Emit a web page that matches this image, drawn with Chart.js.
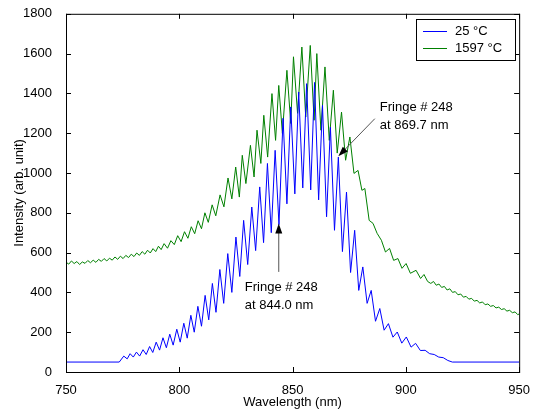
<!DOCTYPE html>
<html>
<head>
<meta charset="utf-8">
<script src="https://cdn.jsdelivr.net/npm/chart.js@4.4.1/dist/chart.umd.min.js"></script>
<style>
body { margin: 0; background: #fff; }
</style>
</head>
<body>
<canvas id="myChart" width="533" height="411"></canvas>
<script>
// 25 °C spectrum (wavelength nm, intensity)
var blueWl = [750, 773.5, 775.5, 777, 778.3, 779.7, 781.1, 782.5, 784, 785.4, 786.9, 788.3, 789.8, 791.3, 792.8, 794.3,
    795.8, 797.3, 798.9, 800.4, 802, 803.5, 805.1, 806.6, 808.2, 809.8, 811.4, 813, 814.6, 816.2, 817.9, 819.6,
    821.4, 823.2, 825, 826.7, 828.4, 830.2, 832, 833.7, 835.5, 837.2, 838.9, 840.6, 842.3, 844, 845.8, 847.5,
    849.2, 851, 852.7, 854.5, 856.2, 858, 859.7, 861.5, 863.2, 865, 866.7, 868.5, 870.2, 872, 873.8, 875.6,
    877.4, 879.2, 881, 882.9, 884.7, 886.6, 888.5, 890.4, 892.3, 894.3, 896.2, 898.2, 900.2, 902.3, 904.3, 906.4,
    908.5, 910.5, 912.5, 914.5, 916.5, 918.5, 920.5, 950];
var blueI = [50, 50, 80, 66, 92, 75, 100, 80, 112, 88, 128, 98, 150, 110, 172, 122,
    190, 135, 215, 150, 245, 170, 285, 200, 330, 230, 385, 262, 445, 300, 515, 345,
    595, 400, 678, 480, 762, 540, 829, 610, 930, 650, 1048, 700, 1114, 740, 1275, 845,
    1332, 895, 1407, 925, 1449, 915, 1455, 865, 1340, 780, 1230, 712, 1080, 605, 904, 500,
    712, 410, 528, 345, 410, 255, 319, 210, 243, 175, 201, 145, 176, 125, 144, 108,
    109, 92, 88, 75, 72, 58, 50, 50];

// 1597 °C spectrum
var greenWl = [750, 751.2, 752.4, 753.6, 754.8, 756, 757.2, 758.4, 759.6, 760.8, 762, 763.2, 764.4, 765.6, 766.8, 768,
    769.2, 770.4, 771.6, 772.8, 774, 775.2, 776.4, 777.6, 778.8, 780, 781.2, 782.4, 783.6, 784.8, 786, 787.2,
    788.4, 789.6, 790.8, 792, 793.3, 794.8, 796.3, 797.8, 799.3, 800.8, 802.3, 803.8, 805.3, 806.8, 808.3, 809.8,
    811.3, 812.8, 814.5, 816.1, 818, 819.7, 821.5, 823.2, 824.9, 826.5, 827.8, 829.4, 831.4, 833, 834.3, 836,
    837.3, 839, 840.9, 842.5, 843.9, 845.5, 847.5, 849.2, 850.4, 852.2, 854.1, 855.8, 857.8, 859.5, 860.7, 862.5,
    864.3, 866.2, 868, 869.7, 871.6, 873.4, 875.3, 877.1, 878.9, 880.6, 881.9, 883.8, 885.5, 887.3, 889.2, 891,
    892.8, 894.6, 896.5, 898.3, 900.1, 902, 904.5, 906.5, 908, 909.6, 911, 912.2, 913.4, 914.6, 915.8, 917,
    918.2, 919.4, 920.6, 921.8, 923, 924.2, 925.4, 926.6, 927.8, 929, 930.2, 931.4, 932.6, 933.8, 935, 936.2,
    937.4, 938.6, 939.8, 941, 942.2, 943.4, 944.6, 945.8, 947, 948.2, 949.4, 950];
var greenI = [552, 542, 558, 545, 555, 540, 553, 546, 560, 549, 562, 551, 566, 556, 570, 558,
    572, 562, 578, 566, 582, 570, 586, 575, 592, 580, 598, 586, 605, 592, 612, 598,
    620, 605, 632, 615, 645, 622, 660, 640, 685, 655, 705, 672, 730, 695, 760, 720,
    800, 752, 840, 785, 890, 830, 975, 870, 1030, 879, 1089, 947, 1139, 980, 1215, 1048,
    1290, 1080, 1399, 1164, 1440, 1199, 1516, 1249, 1584, 1300, 1633, 1281, 1641, 1265, 1600, 1215,
    1533, 1164, 1416, 1100, 1306, 1064, 1181, 998, 1013, 913, 922, 762, 747, 697, 662, 603,
    621, 561, 570, 521, 545, 496, 511, 470, 490, 455, 445, 455, 436, 442, 425, 430,
    412, 418, 400, 404, 388, 392, 376, 380, 366, 370, 356, 360, 347, 352, 338, 342,
    330, 334, 322, 326, 314, 318, 306, 310, 298, 302, 288, 292];

var seriesNames = ['25 °C', '1597 °C'];
var seriesColors = ['#0000ff', '#008000'];

// fringe callouts: arrow tip, arrow tail, text anchor (data units)
var noteText = [['Fringe # 248', 'at 844.0 nm'], ['Fringe # 248', 'at 869.7 nm']];
var noteTip = [[843.9, 746], [870.2, 1084]];
var noteTail = [[843.9, 503], [886.3, 1273]];
var noteAt = [[828.9, 425], [888.5, 1330]];

function toPoints(xs, ys) {
    var pts = [];
    for (var i = 0; i < xs.length; i++) pts.push({x: xs[i], y: ys[i]});
    return pts;
}

var FONT = '"Liberation Sans", Arial, sans-serif';

var boxPlugin = {
    id: 'boxPlugin',
    afterDraw: function(chart) {
        var c = chart.ctx, a = chart.chartArea;
        var sx = chart.scales.x, sy = chart.scales.y;
        c.save();
        c.strokeStyle = '#000';
        c.lineWidth = 1;
        c.strokeRect(a.left + 0.5, a.top + 0.5, a.right - a.left, a.bottom - a.top);
        c.beginPath();
        sx.ticks.forEach(function(t) {
            var px = Math.round(sx.getPixelForValue(t.value)) + 0.5;
            c.moveTo(px, a.bottom); c.lineTo(px, a.bottom - 5);
            c.moveTo(px, a.top); c.lineTo(px, a.top + 5);
        });
        sy.ticks.forEach(function(t) {
            var py = Math.round(sy.getPixelForValue(t.value)) + 0.5;
            c.moveTo(a.left, py); c.lineTo(a.left + 5, py);
            c.moveTo(a.right, py); c.lineTo(a.right - 5, py);
        });
        c.stroke();

        // callouts
        c.fillStyle = '#000';
        c.font = '13px ' + FONT;
        c.textBaseline = 'middle';
        for (var i = 0; i < noteText.length; i++) {
            var tx = sx.getPixelForValue(noteTip[i][0]), ty = sy.getPixelForValue(noteTip[i][1]);
            var fx = sx.getPixelForValue(noteTail[i][0]), fy = sy.getPixelForValue(noteTail[i][1]);
            var ang = Math.atan2(ty - fy, tx - fx);
            c.strokeStyle = '#555';
            c.beginPath(); c.moveTo(fx, fy); c.lineTo(tx - 8 * Math.cos(ang), ty - 8 * Math.sin(ang)); c.stroke();
            c.beginPath();
            c.moveTo(tx, ty);
            c.lineTo(tx - 10 * Math.cos(ang) + 3.5 * Math.sin(ang), ty - 10 * Math.sin(ang) - 3.5 * Math.cos(ang));
            c.lineTo(tx - 10 * Math.cos(ang) - 3.5 * Math.sin(ang), ty - 10 * Math.sin(ang) + 3.5 * Math.cos(ang));
            c.closePath(); c.fill();
            var ax = sx.getPixelForValue(noteAt[i][0]), ay = sy.getPixelForValue(noteAt[i][1]);
            c.fillText(noteText[i][0], ax, ay);
            c.fillText(noteText[i][1], ax, ay + 18);
        }

        // legend box
        c.fillStyle = '#fff';
        c.fillRect(416, 19, 99, 41);
        c.strokeStyle = '#000';
        c.strokeRect(416.5, 19.5, 99, 41);
        for (var k = 0; k < seriesNames.length; k++) {
            var ly = 31.5 + k * 17;
            c.strokeStyle = seriesColors[k];
            c.beginPath(); c.moveTo(423, ly); c.lineTo(447, ly); c.stroke();
            c.fillStyle = '#000';
            c.fillText(seriesNames[k], 455, ly);
        }
        c.restore();
    }
};

var ctx = document.getElementById('myChart').getContext('2d');
var myChart = new Chart(ctx, {
    type: 'line',
    data: {
        datasets: [{
            label: seriesNames[0],
            data: toPoints(blueWl, blueI),
            borderColor: seriesColors[0],
            borderWidth: 1,
            pointRadius: 0
        }, {
            label: seriesNames[1],
            data: toPoints(greenWl, greenI),
            borderColor: seriesColors[1],
            borderWidth: 1,
            pointRadius: 0
        }]
    },
    options: {
        responsive: false,
        animation: false,
        devicePixelRatio: 1,
        layout: { padding: { top: 13, right: 11, left: 0, bottom: 0 } },
        plugins: { legend: { display: false }, tooltip: { enabled: false } },
        scales: {
            x: {
                type: 'linear', min: 750, max: 950,
                ticks: { stepSize: 50, color: '#000', font: { size: 13, family: FONT }, padding: 3, maxRotation: 0,
                    callback: function(v) { return String(v); } },
                grid: { display: false },
                border: { display: false },
                title: { display: true, text: 'Wavelength (nm)', color: '#000', font: { size: 13, family: FONT }, padding: { top: 0, bottom: 1 } },
                afterFit: function(s) { s.height = 39; }
            },
            y: {
                min: 0, max: 1800,
                ticks: { stepSize: 200, color: '#000', font: { size: 13, family: FONT }, padding: 6,
                    callback: function(v) { return String(v); } },
                grid: { display: false },
                border: { display: false },
                title: { display: true, text: 'Intensity (arb. unit)', color: '#000', font: { size: 13, family: FONT }, padding: { top: 12, bottom: 0 } },
                afterFit: function(s) { s.width = 66; }
            }
        }
    },
    plugins: [boxPlugin]
});
</script>
</body>
</html>
